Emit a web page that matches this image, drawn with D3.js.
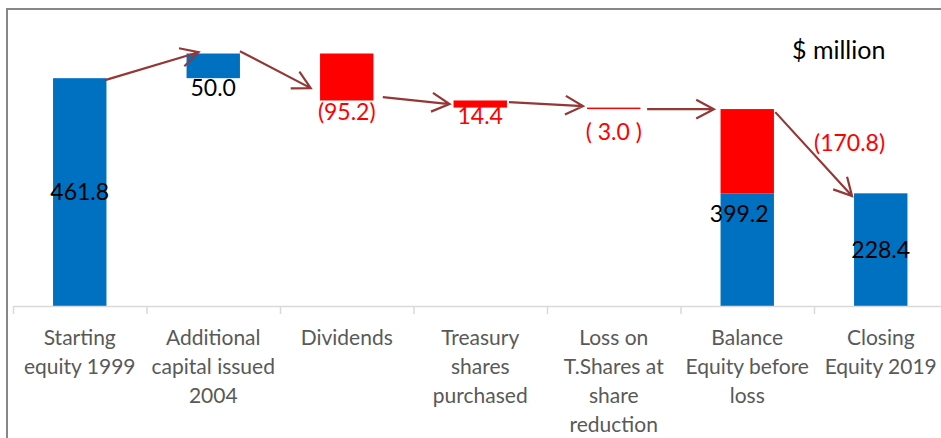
<!DOCTYPE html>
<html>
<head>
<meta charset="utf-8">
<script src="https://cdn.jsdelivr.net/npm/d3@7"></script>
<style>
  body { margin: 0; background: #fff; }
  text { font-family: Lato, "Open Sans", sans-serif; }
</style>
</head>
<body>
<div id="chart"></div>
<script>
// Categories (line breaks as in the original axis labels)
const categories = [
  "Starting\nequity 1999",
  "Additional\ncapital issued\n2004",
  "Dividends",
  "Treasury\nshares\npurchased",
  "Loss on\nT.Shares at\nshare\nreduction",
  "Balance\nEquity before\nloss",
  "Closing\nEquity 2019"
];

// Stacked waterfall series ($ million)
const baseValues = [0, 461.8, 416.6, 402.2, 399.2, 0, 0];      // invisible offset
const blueValues = [461.8, 50.0, 0, 0, 0, 228.4, 228.4];
const redValues  = [0, 0, 95.2, 14.4, 3.0, 170.8, 0];

// Data labels
const labelTexts = ["461.8", "50.0", "(95.2)", "14.4", "( 3.0 )", "399.2", "228.4"];
const lossLabel = "(170.8)";

// Connector arrows: [category position, value] -> [category position, value]
const arrowFrom = [[0.69, 457.8], [1.70, 516.5], [2.77, 423.3], [3.715, 413.2], [4.75, 399.0], [5.71, 393.0]];
const arrowTo   = [[1.39, 514.5], [2.23, 441.6], [3.27, 409.2], [4.27, 405.1], [5.25, 399.0], [6.285, 222.8]];

const width = 941;
const height = 438;

const svg = d3.select("#chart")
  .append("svg")
  .attr("width", width)
  .attr("height", height);

// outer frame (cropped on right and bottom)
svg.append("rect")
  .attr("x", 7).attr("y", 9)
  .attr("width", 1000).attr("height", 500)
  .attr("fill", "none")
  .attr("stroke", "#878787")
  .attr("stroke-width", 2);

const x = d3.scaleBand()
  .domain(d3.range(categories.length))
  .range([13, 947.5])
  .paddingInner(0.6)
  .paddingOuter(0.3);

// continuous position along the categories (0 = left edge of first band)
const xPos = d3.scaleLinear().domain([0, categories.length]).range([13, 947.5]);

const y = d3.scaleLinear().domain([0, 600]).range([306, 10]);

const rows = categories.map((c, i) => ({ i, base: baseValues[i], blue: blueValues[i], red: redValues[i] }));
const stacked = d3.stack().keys(["base", "blue", "red"])(rows);
const fills = { base: "none", blue: "#0070c0", red: "#ff0000" };

svg.append("g").selectAll("g")
  .data(stacked)
  .join("g")
  .attr("fill", s => fills[s.key])
  .selectAll("rect")
  .data(s => s.filter(d => d[1] - d[0] > 0))
  .join("rect")
  .attr("x", d => x(d.data.i))
  .attr("width", x.bandwidth())
  .attr("y", d => y(d[1]))
  .attr("height", d => y(d[0]) - y(d[1]));

// x axis
const axis = svg.append("g")
  .attr("transform", `translate(0,${y(0)})`)
  .call(d3.axisBottom(xPos).tickValues(d3.range(categories.length + 1)).tickFormat("").tickSize(8).tickSizeOuter(0));
axis.select(".domain").attr("stroke", "#d9d9d9").attr("stroke-width", 1.5);
axis.selectAll(".tick line").attr("stroke", "#d9d9d9").attr("stroke-width", 1.5);

// category labels
const catText = svg.append("g").selectAll("text")
  .data(categories)
  .join("text")
  .attr("text-anchor", "middle")
  .attr("font-size", 21)
  .attr("fill", "#595959")
  .attr("x", (d, i) => x(i) + x.bandwidth() / 2)
  .attr("y", 345);
catText.selectAll("tspan")
  .data((d, i) => d.split("\n").map(t => ({ t, i })))
  .join("tspan")
  .attr("x", d => x(d.i) + x.bandwidth() / 2)
  .attr("dy", (d, j) => j === 0 ? 0 : 29)
  .text(d => d.t);

// data labels
const labelColor = i => redValues[i] > 0 && blueValues[i] === 0 ? "#ff0000" : "#000";
svg.append("g").selectAll("text")
  .data(labelTexts)
  .join("text")
  .attr("text-anchor", "middle")
  .attr("font-size", 23)
  .attr("fill", (d, i) => labelColor(i))
  .attr("x", (d, i) => x(i) + x.bandwidth() / 2 - (i === 5 ? 8 : 0))
  .attr("y", (d, i) => {
    const bottom = y(baseValues[i]);
    if (i === 0 || i === 6) return (y(0) + y(blueValues[i])) / 2 + 8;    // centred in bar
    if (i === 5) return y(blueValues[i]) + 29;                            // top of blue segment
    const below = y(baseValues[i]);
    return below + (i === 4 ? 31 : i === 3 ? 16.5 : i === 2 ? 20 : 18); // under the step
  })
  .text(d => d);

svg.append("text")
  .attr("font-size", 23)
  .attr("fill", "#ff0000")
  .attr("x", xPos(6))
  .attr("y", y(blueValues[5] + redValues[5] / 2))
  .text(lossLabel);

// unit note
svg.append("text")
  .attr("font-size", 25)
  .attr("fill", "#000")
  .attr("x", 792)
  .attr("y", 59)
  .text("$ million");

// connector arrows
const arrowColor = "#953735";
const arrows = arrowFrom.map((f, k) => {
  const x1 = xPos(f[0]), y1 = y(f[1]);
  const x2 = xPos(arrowTo[k][0]), y2 = y(arrowTo[k][1]);
  const ang = Math.atan2(y1 - y2, x1 - x2);
  const len = 20, spread = 28 * Math.PI / 180;
  const a1 = [x2 + len * Math.cos(ang - spread), y2 + len * Math.sin(ang - spread)];
  const a2 = [x2 + len * Math.cos(ang + spread), y2 + len * Math.sin(ang + spread)];
  return `M${x1},${y1}L${x2},${y2}M${a1[0]},${a1[1]}L${x2},${y2}L${a2[0]},${a2[1]}`;
});
svg.append("g").selectAll("path")
  .data(arrows)
  .join("path")
  .attr("d", d => d)
  .attr("fill", "none")
  .attr("stroke", arrowColor)
  .attr("stroke-width", 2.2);
</script>
</body>
</html>
